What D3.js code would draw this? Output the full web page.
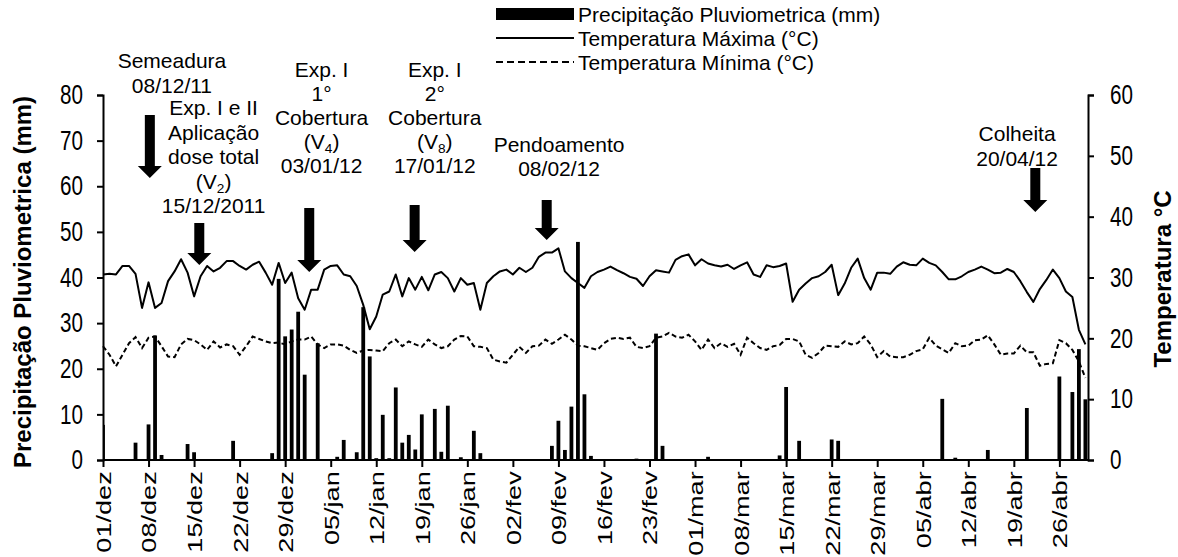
<!DOCTYPE html>
<html>
<head>
<meta charset="utf-8">
<script src="https://cdn.jsdelivr.net/npm/d3@7"></script>
<style>
  body { margin: 0; background: #fff; }
  svg text { font-family: Arial, "Liberation Sans", sans-serif; fill: #000; }
</style>
</head>
<body>
<svg width="1178" height="557"></svg>
<script>
// daily series, day 0 = 01/dez/2011 ... day 151 = 30/abr/2012
var precip = [
  7.7, 0, 0, 0, 0, 3.8, 0,
  7.8, 27.3, 1.1, 0, 0, 0, 3.5,
  1.7, 0, 0, 0, 0, 0, 4.2,
  0, 0, 0, 0, 0, 1.5, 39.7,
  27.1, 28.6, 32.5, 18.7, 0, 25.6, 0,
  0, 0.7, 4.4, 0, 1.7, 33.5, 22.7,
  0.4, 9.9, 0.4, 15.9, 3.8, 5.5, 2.3,
  10.0, 0, 11.2, 1.8, 11.9, 0, 0.6,
  0, 6.4, 1.5, 0, 0, 0, 0,
  0, 0, 0, 0, 0, 0, 3.1,
  8.6, 2.2, 11.7, 47.8, 14.4, 0.9, 0,
  0, 0, 0, 0, 0.2, 0.3, 0,
  0, 27.7, 3.1, 0, 0, 0, 0,
  0.1, 0, 0.7, 0, 0, 0, 0,
  0, 0, 0, 0, 0, 0, 1.0,
  16.0, 0.1, 4.2, 0, 0, 0, 0,
  4.5, 4.2, 0, 0, 0, 0, 0,
  0, 0, 0, 0, 0, 0, 0,
  0, 0, 0, 13.4, 0, 0.5, 0,
  0, 0, 0, 2.2, 0, 0, 0,
  0, 0, 11.4, 0, 0, 0, 0,
  18.3, 0, 14.9, 24.3, 13.3
];

var tmax = [
  30.5, 30.6, 30.5, 31.9, 31.9, 30.6, 25.0, 29.2, 25.0, 25.8, 29.4, 31.0, 33.0, 30.8, 26.9,
  30.2, 31.9, 31.0, 31.6, 32.7, 32.7, 31.9, 31.3, 32.1, 32.6, 30.8, 28.8, 32.4, 29.1, 30.8,
  26.6, 24.7, 28.0, 28.0, 31.3, 31.9, 32.0, 30.5, 30.2, 28.6, 25.5, 21.5, 23.6, 27.2, 27.7,
  30.5, 26.9, 29.9, 28.0, 30.1, 27.9, 30.5, 30.9, 29.9, 27.7, 29.9, 28.8, 29.1, 24.7, 29.1,
  30.2, 31.0, 31.3, 30.5, 31.6, 30.9, 31.6, 33.4, 34.1, 34.1, 34.8, 31.0, 29.9, 29.1, 28.3,
  30.2, 30.9, 31.3, 31.8, 31.2, 30.7, 30.1, 29.8, 28.6, 30.2, 31.2, 31.0, 30.8, 32.9,
  33.5, 33.8, 32.0, 33.0, 32.3, 32.0, 31.8, 32.1, 31.4, 32.0, 32.5, 30.5, 30.1, 32.0, 31.7,
  31.9, 32.3, 26.0, 28.0, 29.0, 29.9, 30.2, 30.9, 32.1, 27.1, 29.0, 31.6, 33.1, 29.9, 28.0,
  30.8, 30.8, 30.6, 31.8, 32.5, 32.1, 32.0, 33.1, 32.4, 32.0, 30.9, 29.7, 29.7, 30.2, 30.9,
  31.3, 31.8, 31.3, 30.7, 30.8, 31.4, 30.9, 29.4, 27.6, 26.0, 28.1, 29.6, 31.3, 29.9, 27.7,
  26.8, 21.4, 19.0
];

var tmin = [
  18.7, 17.3, 15.4, 17.3, 19.2, 20.2, 18.4, 20.1, 20.3, 18.7, 17.0, 16.9, 19.0, 19.9, 19.7,
  19.0, 18.1, 19.5, 18.5, 19.0, 18.7, 17.3, 18.7, 20.3, 19.9, 19.5, 19.2, 19.3, 19.0, 19.5,
  19.8, 19.8, 20.3, 19.0, 18.4, 19.0, 19.0, 18.8, 18.1, 17.6, 18.0, 18.1, 18.0, 17.9, 19.2,
  19.8, 18.7, 19.5, 19.0, 18.6, 19.8, 19.0, 18.4, 18.7, 19.8, 20.4, 20.3, 18.7, 18.6, 18.4,
  16.5, 16.2, 16.0, 17.3, 18.6, 17.6, 18.7, 18.8, 19.8, 19.1, 19.8, 20.6, 19.8, 18.8, 18.7,
  18.4, 18.1, 19.2, 19.9, 20.1, 19.9, 20.1, 18.6, 18.4, 18.7, 20.1, 20.3, 20.9, 20.3,
  20.1, 20.6, 19.5, 18.1, 19.8, 18.4, 19.2, 18.6, 19.1, 17.3, 20.1, 19.2, 18.4, 18.1, 18.7,
  18.9, 19.9, 19.9, 19.5, 17.3, 16.8, 17.6, 18.8, 18.7, 18.6, 19.5, 19.0, 19.2, 20.3, 19.0,
  16.9, 17.9, 17.0, 16.9, 16.9, 17.3, 17.9, 18.2, 20.1, 18.8, 18.2, 17.6, 19.2, 18.7, 18.8,
  19.7, 19.8, 20.5, 19.0, 17.3, 17.5, 17.5, 18.8, 17.7, 17.7, 15.5, 15.8, 15.9, 19.7, 19.2,
  18.1, 16.2, 13.5
];

var tickDays = d3.range(0, 148, 7);
var tickLabels = ["01/dez", "08/dez", "15/dez", "22/dez", "29/dez", "05/jan", "12/jan", "19/jan",
  "26/jan", "02/fev", "09/fev", "16/fev", "23/fev", "01/mar", "08/mar", "15/mar", "22/mar",
  "29/mar", "05/abr", "12/abr", "19/abr", "26/abr"];

var legendNames = ["Precipitação Pluviometrica (mm)", "Temperatura Máxima (°C)", "Temperatura Mínima (°C)"];

// event notes: text centre day, arrow day, first baseline, arrow top/tip, lines ("_" = subscript)
var notes = [
  { day: 10.6,  arrow: 7.2,   y0: 68,  dy: 25,   a0: 115, a1: 178, lines: ["Semeadura", "08/12/11"] },
  { day: 17.0,  arrow: 14.8,  y0: 115, dy: 24.5, a0: 223, a1: 265, lines: ["Exp. I e II", "Aplicação", "dose total", "(V_2)", "15/12/2011"] },
  { day: 33.6,  arrow: 31.7,  y0: 77,  dy: 24,   a0: 208, a1: 272, lines: ["Exp. I", "1°", "Cobertura", "(V_4)", "03/01/12"] },
  { day: 51.0,  arrow: 47.9,  y0: 77,  dy: 24,   a0: 205, a1: 252, lines: ["Exp. I", "2°", "Cobertura", "(V_8)", "17/01/12"] },
  { day: 70.1,  arrow: 68.2,  y0: 152, dy: 24,   a0: 200, a1: 240, lines: ["Pendoamento", "08/02/12"] },
  { day: 140.5, arrow: 143.3, y0: 141, dy: 25,   a0: 168, a1: 212, lines: ["Colheita", "20/04/12"] }
];

var svg = d3.select("svg"),
    pl = 103, pr = 1088, pt = 95, pb = 460,
    fsAxis = 24, fsNote = 21,
    sx = 0.86, sy = 1.13;   // tick labels are narrow and tall in the original

var x = d3.scaleLinear().domain([0, 151.4]).range([pl, pr]),
    yP = d3.scaleLinear().domain([0, 80]).range([pb, pt]),
    yT = d3.scaleLinear().domain([0, 60]).range([pb, pt]);

svg.append("defs").append("clipPath").attr("id", "plot")
  .append("rect").attr("x", pl).attr("y", 0).attr("width", pr - pl).attr("height", pb);

// precipitation bars
svg.append("g").attr("clip-path", "url(#plot)")
  .selectAll("rect")
  .data(precip.map(function(v, i) { return { d: i, v: v }; }).filter(function(p) { return p.v > 0; }))
  .enter().append("rect")
    .attr("x", function(p) { return x(p.d) - 1.9; })
    .attr("y", function(p) { return yP(p.v); })
    .attr("width", 3.8)
    .attr("height", function(p) { return pb - yP(p.v); })
    .attr("fill", "#000");

var line = d3.line()
  .x(function(d, i) { return x(i); })
  .y(function(d) { return yT(d); });

svg.append("path").datum(tmax)
  .attr("fill", "none").attr("stroke", "#000").attr("stroke-width", 2)
  .attr("stroke-linejoin", "round").attr("d", line);

svg.append("path").datum(tmin)
  .attr("fill", "none").attr("stroke", "#000").attr("stroke-width", 2)
  .attr("stroke-dasharray", "5,3").attr("d", line);

// axes
function styleAxis(g) {
  g.select(".domain").attr("stroke", "#000").attr("stroke-width", 2);
  g.selectAll(".tick line").attr("stroke", "#000").attr("stroke-width", 2);
  g.selectAll(".tick text").attr("font-size", fsAxis).attr("fill", "#000")
    .attr("font-family", "Arial, 'Liberation Sans', sans-serif");
}

svg.append("g")
  .attr("transform", "translate(" + pl + ",0)")
  .call(d3.axisLeft(yP).tickValues(d3.range(0, 81, 10)).tickSizeOuter(6).tickSizeInner(6))
  .call(styleAxis)
  .selectAll(".tick text")
    .attr("x", -20 / sx)
    .attr("transform", "scale(" + sx + "," + sy + ")");

svg.append("g")
  .attr("transform", "translate(" + pr + ",0)")
  .call(d3.axisRight(yT).tickValues(d3.range(0, 61, 10)).tickSizeOuter(6).tickSizeInner(6))
  .call(styleAxis)
  .selectAll(".tick text")
    .attr("x", 22 / sx)
    .attr("transform", "scale(" + sx + "," + sy + ")");

var gx = svg.append("g")
  .attr("transform", "translate(0," + pb + ")")
  .call(d3.axisBottom(x).tickValues(tickDays)
    .tickFormat(function(d, i) { return tickLabels[i]; })
    .tickSizeOuter(0).tickSizeInner(7))
  .call(styleAxis);
gx.select(".domain").attr("d", "M" + pl + ",0H" + pr);
gx.selectAll(".tick text")
  .attr("text-anchor", "end")
  .attr("transform", "scale(" + sx + "," + sy + ") rotate(-90)")
  .attr("x", -10).attr("y", 0).attr("dy", "0.36em");

// axis titles
svg.append("text")
  .attr("transform", "translate(31,282) rotate(-90)")
  .attr("text-anchor", "middle").attr("font-size", fsAxis).attr("font-weight", "bold")
  .text("Precipitação Pluviometrica (mm)");

svg.append("text")
  .attr("transform", "translate(1171,279) rotate(-90)")
  .attr("text-anchor", "middle").attr("font-size", fsAxis).attr("font-weight", "bold")
  .text("Temperatura °C");

// legend
var lg = svg.append("g").attr("transform", "translate(496,0)");
lg.append("rect").attr("x", 0).attr("y", 8).attr("width", 78).attr("height", 12).attr("fill", "#000");
lg.append("line").attr("x1", 0).attr("x2", 78).attr("y1", 38).attr("y2", 38)
  .attr("stroke", "#000").attr("stroke-width", 2);
lg.append("line").attr("x1", 0).attr("x2", 78).attr("y1", 62).attr("y2", 62)
  .attr("stroke", "#000").attr("stroke-width", 2).attr("stroke-dasharray", "7,4");
lg.selectAll("text.leg").data(legendNames).enter().append("text")
  .attr("class", "leg")
  .attr("x", 82).attr("y", function(d, i) { return 21.5 + i * 24; })
  .attr("font-size", fsNote)
  .text(function(d) { return d; });

// annotations with arrows
notes.forEach(function(n) {
  var t = svg.append("text").attr("font-size", fsNote).attr("text-anchor", "middle");
  n.lines.forEach(function(l, i) {
    var ts = t.append("tspan").attr("x", x(n.day)).attr("y", n.y0 + i * n.dy);
    if (l.indexOf("_") >= 0) {
      var parts = l.split("_");
      ts.append("tspan").text(parts[0]);
      ts.append("tspan").attr("font-size", fsNote * 0.65).attr("dy", 4).text(parts[1].charAt(0));
      ts.append("tspan").attr("dy", -4).text(parts[1].slice(1));
    } else {
      ts.text(l);
    }
  });
  var ax = x(n.arrow), hw = 5, hh = 12, head = 12;
  svg.append("path")
    .attr("d", "M" + (ax - hw) + "," + n.a0 + "H" + (ax + hw) + "V" + (n.a1 - head) +
      "H" + (ax + hh) + "L" + ax + "," + n.a1 + "L" + (ax - hh) + "," + (n.a1 - head) +
      "H" + (ax - hw) + "Z")
    .attr("fill", "#000");
});
</script>
</body>
</html>
